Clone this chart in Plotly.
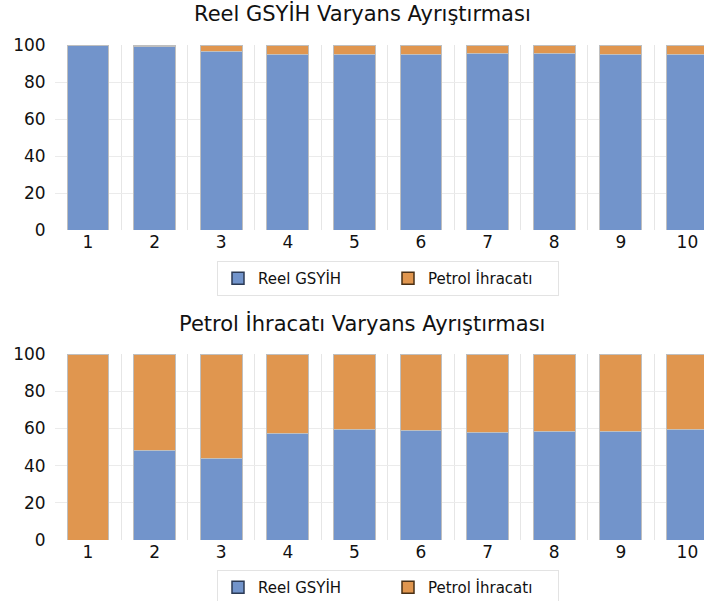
import plotly.graph_objects as go

periods = [1, 2, 3, 4, 5, 6, 7, 8, 9, 10]
period_labels = ["1", "2", "3", "4", "5", "6", "7", "8", "9", "10"]
series_names = ["Reel GSYİH", "Petrol İhracatı"]

# Top panel: Reel GSYİH variance decomposition
top_gsyih = [100.0, 99.3, 96.4, 95.0, 95.0, 95.0, 95.4, 95.4, 95.0, 95.0]
top_petrol = [round(100 - v, 1) for v in top_gsyih]

# Bottom panel: Petrol İhracatı variance decomposition
bot_gsyih = [0.0, 48.0, 43.9, 57.2, 59.5, 59.1, 57.9, 58.4, 58.1, 59.3]
bot_petrol = [round(100 - v, 1) for v in bot_gsyih]

titles = ["Reel GSYİH Varyans Ayrıştırması", "Petrol İhracatı Varyans Ayrıştırması"]

BLUE = "#7294CB"
ORANGE = "#E0964F"
EDGE = "#BFBFBF"
FONT = "DejaVu Sans"

fig = go.Figure()

def add_panel(xa, ya, gs, pe, leg):
    fig.add_trace(go.Bar(x=periods, y=gs, xaxis=xa, yaxis=ya, name=series_names[0],
                         marker=dict(color=BLUE, line=dict(color=EDGE, width=1)),
                         showlegend=False))
    fig.add_trace(go.Bar(x=periods, y=pe, xaxis=xa, yaxis=ya, name=series_names[1],
                         marker=dict(color=ORANGE, line=dict(color=EDGE, width=1)),
                         showlegend=False))
    # legend entries with dark outlines
    fig.add_trace(go.Bar(x=[None], y=[None], xaxis=xa, yaxis=ya, name=series_names[0],
                         marker=dict(color=BLUE, line=dict(color="#2B3A55", width=1.5)),
                         legend=leg))
    fig.add_trace(go.Bar(x=[None], y=[None], xaxis=xa, yaxis=ya, name=series_names[1],
                         marker=dict(color=ORANGE, line=dict(color="#4A3015", width=1.5)),
                         legend=leg))

add_panel("x", "y", top_gsyih, top_petrol, "legend")
add_panel("x2", "y2", bot_gsyih, bot_petrol, "legend2")

H = 601
W = 704
xdom = [54.7 / W, 1.0]
xrange = [0.5, 0.5 + (W - 54.7) / 66.6]
boundaries = [p + 0.5 for p in periods]

xcommon = dict(range=xrange, domain=xdom, tickmode="array", tickvals=periods,
               ticktext=period_labels, showgrid=False, zeroline=False, showline=False,
               ticks="", tickfont=dict(family=FONT, size=17, color="#111"), automargin=False,
               minor=dict(tickmode="array", tickvals=boundaries, showgrid=True,
                          gridcolor="#E6E6E6", gridwidth=1, ticks=""))
ycommon = dict(range=[0, 100], tickvals=[0, 20, 40, 60, 80, 100], showgrid=True,
               gridcolor="#EBEBEB", zeroline=False, showline=False, ticks="", automargin=False,
               tickfont=dict(family=FONT, size=17, color="#111"), ticklabelstandoff=8)

legcommon = dict(orientation="h", x=388 / W, xanchor="center", yanchor="top",
                 bordercolor="#E3E3E3", borderwidth=1, traceorder="normal",
                 font=dict(family=FONT, size=15, color="#111"),
                 itemwidth=30, entrywidth=125)

fig.update_layout(
    width=W, height=H,
    margin=dict(l=0, r=0, t=0, b=0, autoexpand=False),
    paper_bgcolor="white", plot_bgcolor="white",
    barmode="stack", bargap=0.37,
    xaxis=dict(**xcommon, anchor="y"),
    yaxis=dict(**ycommon, domain=[1 - 230 / H, 1 - 45 / H], anchor="x"),
    xaxis2=dict(**xcommon, anchor="y2"),
    yaxis2=dict(**ycommon, domain=[1 - 540 / H, 1 - 354 / H], anchor="x2"),
    legend=dict(**legcommon, y=1 - 261 / H),
    legend2=dict(**legcommon, y=1 - 570 / H),
    annotations=[
        dict(text=titles[0], x=362 / W, y=1 - 14 / H, xref="paper", yref="paper",
             showarrow=False, xanchor="center", yanchor="middle",
             font=dict(family=FONT, size=21, color="#111")),
        dict(text=titles[1], x=362 / W, y=1 - 323 / H, xref="paper", yref="paper",
             showarrow=False, xanchor="center", yanchor="middle",
             font=dict(family=FONT, size=21, color="#111")),
    ],
)

fig.write_html("out.html", config={"displayModeBar": False},
               post_script="document.body.style.margin='0';document.body.style.padding='0';document.body.style.overflow='hidden';")
